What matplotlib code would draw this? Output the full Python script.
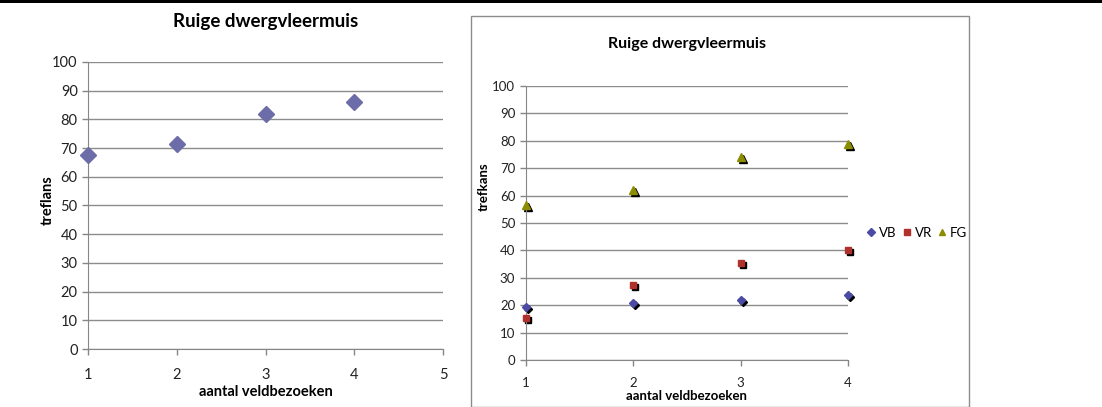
import numpy as np
import matplotlib
matplotlib.use('Agg')
import matplotlib.pyplot as plt
import matplotlib.transforms as mtransforms
from matplotlib.patches import Rectangle

plt.rcParams['font.family'] = ['Lato', 'DejaVu Sans']

visits_left = [1, 2, 3, 4]
trefkans_left = [67.5, 71.5, 82, 86]

visits_right = [1, 2, 3, 4]
vb = [19.5, 20.8, 22, 23.8]
vr = [15.5, 27.5, 35.5, 40]
fg = [56.5, 62, 74, 79]

title = 'Ruige dwergvleermuis'
grid_col = '#8c8c8c'
axis_col = '#868686'

fig = plt.figure(figsize=(11.02, 4.07), dpi=100)

# black bar at top of page
fig.add_artist(Rectangle((0, 0.992), 1, 0.008, transform=fig.transFigure,
                         color='black', lw=0))

# box around right chart
fig.add_artist(Rectangle((0.4274, 0.0), 0.4519, 0.9607, transform=fig.transFigure,
                         fill=False, edgecolor='#8c8c8c', lw=1.0))


def style_axes(ax, xmax, fs):
    ax.set_ylim(0, 100)
    ax.set_yticks(np.arange(0, 101, 10))
    ax.set_xlim(1, xmax)
    ax.set_xticks(range(1, xmax + 1))
    ax.grid(axis='y', color=grid_col, linewidth=1.0)
    ax.set_axisbelow(True)
    for s in ['top', 'right']:
        ax.spines[s].set_visible(False)
    for s in ['left', 'bottom']:
        ax.spines[s].set_color(axis_col)
    ax.tick_params(axis='both', colors=axis_col, labelcolor='#222222',
                   labelsize=fs, length=4, width=1)
    ax.tick_params(axis='x', pad=10)


# left chart
ax1 = fig.add_axes([0.0799, 0.1425, 0.3221, 0.7052])
style_axes(ax1, 5, 10.5)
ax1.plot(visits_left, trefkans_left, linestyle='none', marker='D',
         markersize=8, color='#6c6ca8', clip_on=False, zorder=3)
ax1.set_title(title, fontsize=13.5, fontweight='bold', pad=25)
ax1.set_xlabel('aantal veldbezoeken', fontsize=10.5, fontweight='bold', labelpad=2)
ax1.set_ylabel('treflans', fontsize=10.5, fontweight='bold')
ax1.yaxis.set_label_coords(-0.093, 0.519)

# right chart
ax2 = fig.add_axes([0.477, 0.1155, 0.2925, 0.6732])
style_axes(ax2, 4, 9.5)
ax2.tick_params(axis='x', pad=8)
shadow = mtransforms.offset_copy(ax2.transData, fig=fig, x=2, y=-2, units='dots')
series = [(vb, 'VB', 'D', 4.5, '#4b4ba6'),
          (vr, 'VR', 's', 5, '#b0302c'),
          (fg, 'FG', '^', 5.5, '#8c8c00')]
for vals, lab, mk, ms, col in series:
    ax2.plot(visits_right, vals, linestyle='none', marker=mk, markersize=ms,
             color='black', transform=shadow, clip_on=False, zorder=2)
    ax2.plot(visits_right, vals, linestyle='none', marker=mk, markersize=ms,
             color=col, label=lab, clip_on=False, zorder=3)
ax2.set_title(title, fontsize=11.5, fontweight='bold', pad=27)
ax2.set_xlabel('aantal veldbezoeken', fontsize=9.5, fontweight='bold', labelpad=1)
ax2.set_ylabel('trefkans', fontsize=9.5, fontweight='bold')
ax2.yaxis.set_label_coords(-0.111, 0.631)
fig.legend(loc='center', bbox_to_anchor=(0.831, 0.4275), ncol=3, frameon=False,
           fontsize=9.5, handletextpad=0.1, columnspacing=0.3, handlelength=1.0,
           markerscale=0.9)

fig.savefig('out.png', dpi=100)
